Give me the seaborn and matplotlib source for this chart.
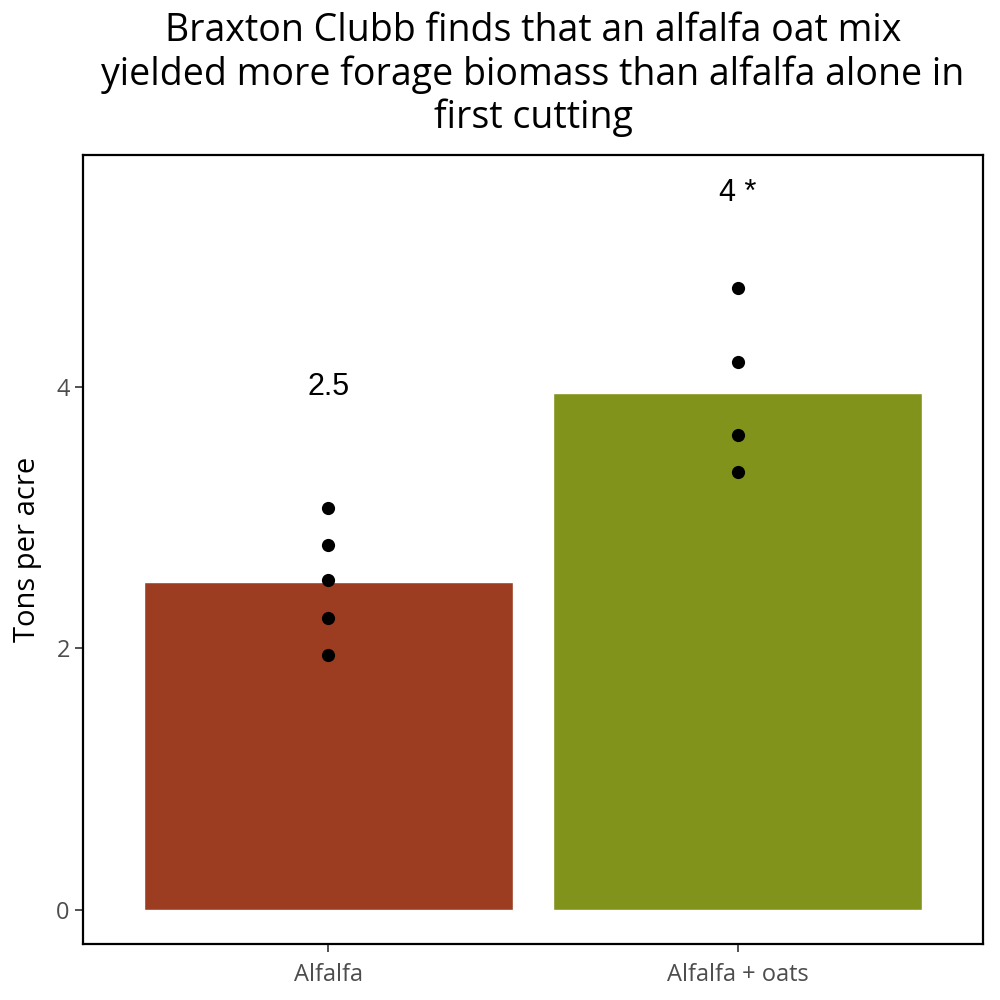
import matplotlib
matplotlib.use("Agg")
import matplotlib.pyplot as plt
import numpy as np
import pandas as pd
import seaborn as sns

treatments = ["Alfalfa", "Alfalfa + oats"]
mean_yield = [2.51, 3.95]
bar_colors = ["#9C3D22", "#82931C"]
sample_treatment = ["Alfalfa"] * 5 + ["Alfalfa + oats"] * 4
sample_yield = [3.07, 2.79, 2.52, 2.23, 1.95, 4.75, 4.19, 3.63, 3.35]
label_text = ["2.5", "4 *"]
label_y = [4.0, 5.48]


def main() -> None:
    sns.set_style("white")
    plt.rcParams["font.family"] = ["Open Sans", "DejaVu Sans"]

    bars = pd.DataFrame({"treatment": treatments, "tons": mean_yield})
    samples = pd.DataFrame({"treatment": sample_treatment, "tons": sample_yield})

    fig = plt.figure(figsize=(10, 10), dpi=100)
    ax = fig.add_axes([0.083, 0.056, 0.900, 0.789])

    sns.barplot(
        data=bars, x="treatment", y="tons", hue="treatment",
        order=treatments, palette=bar_colors, width=0.9,
        saturation=1, legend=False, ax=ax
    )
    sns.stripplot(
        data=samples, x="treatment", y="tons", order=treatments,
        jitter=False, color="black", size=9.5, ax=ax
    )
    for i, (txt, yv) in enumerate(zip(label_text, label_y)):
        ax.text(i, yv, txt, ha="center", va="center", fontsize=22,
                family="Liberation Sans", color="black")

    ax.set_xlim(-0.6, 1.6)
    ax.set_ylim(-0.26, 5.77)
    ax.set_yticks([0, 2, 4])
    ax.set_xlabel("")
    ax.set_ylabel("Tons per acre", fontsize=21, color="black", labelpad=10)
    ax.tick_params(axis="both", labelsize=17, labelcolor="#4D4D4D",
                   length=6, width=1.2, color="#333333", left=True, bottom=True)
    ax.tick_params(axis="x", pad=8)
    for s in ax.spines.values():
        s.set_visible(True)
        s.set_color("black")
        s.set_linewidth(1.6)

    fig.suptitle(
        "Braxton Clubb finds that an alfalfa oat mix\n"
        "yielded more forage biomass than alfalfa alone in\n"
        "first cutting",
        x=0.533, y=0.988, fontsize=27, va="top", linespacing=1.17,
        color="black"
    )

    fig.savefig("out.png", dpi=100)


if __name__ == "__main__":
    main()
